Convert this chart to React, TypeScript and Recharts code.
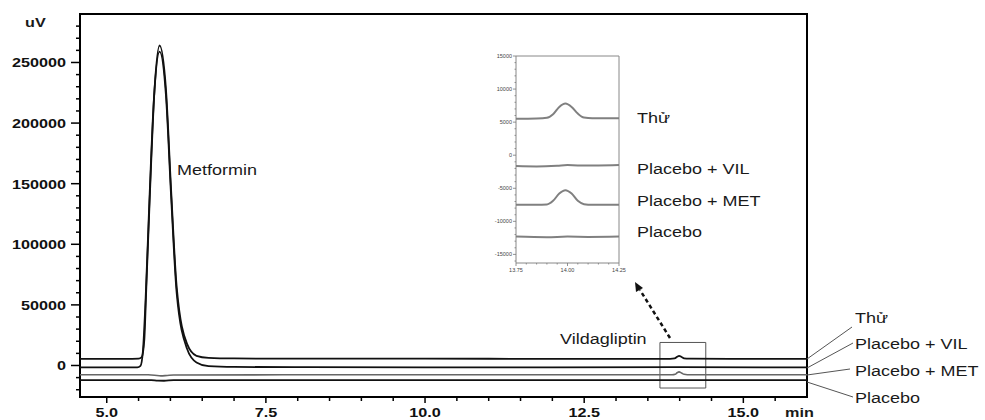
import { LineChart, Line, XAxis, YAxis, ReferenceArea } from "recharts";

// main chromatogram (time in min, signal in uV)
const xDomain = [4.58, 16];
const yDomain = [-26000, 290000];
const xTicks = [5, 5.5, 6, 6.5, 7, 7.5, 8, 8.5, 9, 9.5, 10, 10.5, 11, 11.5, 12, 12.5, 13, 13.5, 14, 14.5, 15, 15.5];
const xLabels = [5, 7.5, 10, 12.5, 15];
const yTicks = [
  -20000, -10000, 0, 10000, 20000, 30000, 40000, 50000, 60000, 70000, 80000, 90000, 100000,
  110000, 120000, 130000, 140000, 150000, 160000, 170000, 180000, 190000, 200000, 210000,
  220000, 230000, 240000, 250000, 260000, 270000, 280000,
];
const yLabels = [0, 50000, 100000, 150000, 200000, 250000];

const thuTimes = [4.58, 5.4, 5.5, 5.55, 5.59, 5.62, 5.68, 5.75, 5.83, 5.93, 6.01, 6.1, 6.26, 6.41, 6.6, 7.0, 8.0, 10.0, 12.0, 13.85, 13.92, 13.96, 13.99, 14.03, 14.07, 14.15, 15.0, 16.0];
const thuValues = [5500, 5500, 5600, 7000, 21000, 62000, 144000, 227000, 264000, 228000, 146000, 64000, 18000, 8000, 6300, 5800, 5600, 5600, 5500, 5500, 5800, 7200, 8000, 7000, 5900, 5600, 5500, 5500];

const vilTimes = [4.58, 5.38, 5.48, 5.53, 5.57, 5.61, 5.67, 5.74, 5.83, 5.93, 6.01, 6.1, 6.26, 6.41, 6.6, 7.0, 8.0, 10.0, 12.0, 14.0, 16.0];
const vilValues = [-1600, -1600, -1500, -300, 13000, 54000, 136000, 219000, 259000, 223000, 141000, 59000, 14000, 2500, -600, -1200, -1400, -1500, -1500, -1400, -1600];

const metTimes = [4.58, 5.65, 5.75, 5.85, 5.95, 6.05, 8.0, 12.0, 13.88, 13.93, 13.96, 13.99, 14.03, 14.07, 14.12, 16.0];
const metValues = [-7700, -7700, -8000, -8600, -8200, -7800, -7700, -7700, -7700, -7300, -6000, -5300, -6200, -7300, -7600, -7700];

const placeboTimes = [4.58, 5.7, 5.8, 5.9, 6.05, 10.0, 14.0, 16.0];
const placeboValues = [-12000, -12000, -12500, -12600, -12100, -12000, -12100, -12000];

// inset zoom around vildagliptin
const insetXDomain = [13.75, 14.25];
const insetYDomain = [-16300, 15000];
const insetXTicks = [13.75, 13.8, 13.85, 13.9, 13.95, 14.0, 14.05, 14.1, 14.15, 14.2, 14.25];
const insetXLabels = ["13.75", "14.00", "14.25"];
const insetYTicks = [
  -16000, -15000, -14000, -13000, -12000, -11000, -10000, -9000, -8000, -7000, -6000, -5000,
  -4000, -3000, -2000, -1000, 0, 1000, 2000, 3000, 4000, 5000, 6000, 7000, 8000, 9000, 10000,
  11000, 12000, 13000, 14000, 15000,
];
const insetYLabels = [-15000, -10000, -5000, 0, 5000, 10000, 15000];

const insetThuTimes = [13.75, 13.85, 13.9, 13.93, 13.96, 13.99, 14.02, 14.05, 14.08, 14.12, 14.25];
const insetThuValues = [5500, 5550, 5650, 6200, 7300, 7800, 7300, 6300, 5700, 5600, 5600];
const insetVilTimes = [13.75, 13.85, 13.95, 14.0, 14.05, 14.15, 14.25];
const insetVilValues = [-1650, -1700, -1600, -1500, -1550, -1550, -1500];
const insetMetTimes = [13.75, 13.85, 13.9, 13.93, 13.96, 13.99, 14.02, 14.05, 14.08, 14.12, 14.25];
const insetMetValues = [-7500, -7500, -7450, -6900, -5800, -5300, -5800, -6900, -7400, -7500, -7500];
const insetPlaceboTimes = [13.75, 13.9, 14.0, 14.1, 14.25];
const insetPlaceboValues = [-12300, -12400, -12300, -12350, -12300];

const seriesNames = ["Thử", "Placebo + VIL", "Placebo + MET", "Placebo"];

const toPoints = (ts: number[], vs: number[]) => ts.map((t, i) => ({ t, v: vs[i] }));

const FONT = "'Liberation Sans', Arial, sans-serif";

const YTick = (props: any) => {
  const { x, y, payload } = props;
  const major = yLabels.includes(payload.value);
  return (
    <g>
      <line x1={x - (major ? 9 : 4)} x2={x} y1={y} y2={y} stroke="#000" strokeWidth={1.5} />
      {major && (
        <text
          transform={`translate(${x - 14},${y + 5}) scale(1.2,1)`}
          textAnchor="end"
          fontFamily={FONT}
          fontWeight="bold"
          fontSize={13.5}
          fill="#111"
        >
          {payload.value}
        </text>
      )}
    </g>
  );
};

const XTick = (props: any) => {
  const { x, y, payload } = props;
  const major = xLabels.includes(payload.value);
  return (
    <g>
      <line x1={x} x2={x} y1={y} y2={y + (major ? 6 : 4)} stroke="#000" strokeWidth={1.5} />
      {major && (
        <text
          transform={`translate(${x},${y + 20}) scale(1.2,1)`}
          textAnchor="middle"
          fontFamily={FONT}
          fontWeight="bold"
          fontSize={13.5}
          fill="#111"
        >
          {payload.value.toFixed(1)}
        </text>
      )}
    </g>
  );
};

const InsetYTick = (props: any) => {
  const { x, y, payload } = props;
  const major = insetYLabels.includes(payload.value);
  return (
    <g>
      <line x1={x - (major ? 3 : 1.5)} x2={x} y1={y} y2={y} stroke="#777" strokeWidth={0.8} />
      {major && (
        <text x={x - 4} y={y + 2} textAnchor="end" fontFamily={FONT} fontSize={5.5} fill="#444">
          {payload.value}
        </text>
      )}
    </g>
  );
};

const InsetXTick = (props: any) => {
  const { x, y, payload } = props;
  const label = insetXLabels.find((l) => Math.abs(parseFloat(l) - payload.value) < 1e-6);
  return (
    <g>
      <line x1={x} x2={x} y1={y} y2={y + (label ? 3 : 1.5)} stroke="#777" strokeWidth={0.8} />
      {label && (
        <text x={x} y={y + 9} textAnchor="middle" fontFamily={FONT} fontSize={5.5} fill="#444">
          {label}
        </text>
      )}
    </g>
  );
};

const Label = ({ x, y, children, size = 15, bold = false, anchor = "start" }: any) => (
  <text
    transform={`translate(${x},${y}) scale(1.2,1)`}
    textAnchor={anchor}
    fontFamily={FONT}
    fontSize={size}
    fontWeight={bold ? "bold" : "normal"}
    fill="#1a1a1a"
  >
    {children}
  </text>
);

export default function App() {
  const mainSeries = [
    { name: seriesNames[0], data: toPoints(thuTimes, thuValues), color: "#111", w: 1.8 },
    { name: seriesNames[1], data: toPoints(vilTimes, vilValues), color: "#111", w: 1.8 },
    { name: seriesNames[2], data: toPoints(metTimes, metValues), color: "#666", w: 1.6 },
    { name: seriesNames[3], data: toPoints(placeboTimes, placeboValues), color: "#111", w: 1.8 },
  ];
  const insetSeries = [
    toPoints(insetThuTimes, insetThuValues),
    toPoints(insetVilTimes, insetVilValues),
    toPoints(insetMetTimes, insetMetValues),
    toPoints(insetPlaceboTimes, insetPlaceboValues),
  ];

  return (
    <div style={{ position: "absolute", left: 0, top: 0, width: 985, height: 420, background: "#fff" }}>
      <div style={{ position: "absolute", left: 0, top: 0 }}>
        <LineChart width={985} height={420} margin={{ top: 14, right: 178, bottom: 3, left: 10 }}>
          <XAxis
            type="number"
            dataKey="t"
            domain={xDomain}
            ticks={xTicks}
            interval={0}
            tick={XTick}
            tickSize={0}
            tickMargin={0}
            axisLine={false}
            height={20}
            allowDataOverflow
          />
          <YAxis
            type="number"
            domain={yDomain}
            ticks={yTicks}
            interval={0}
            tick={YTick}
            tickSize={0}
            tickMargin={0}
            axisLine={false}
            width={70}
            allowDataOverflow
          />
          <ReferenceArea x1={xDomain[0]} x2={xDomain[1]} y1={yDomain[0]} y2={yDomain[1]} fill="none" stroke="#000" strokeWidth={2} />
          <ReferenceArea x1={13.69} x2={14.41} y1={-18600} y2={19000} fill="none" stroke="#555" strokeWidth={1} />
          {mainSeries.map((s) => (
            <Line
              key={s.name}
              data={s.data}
              dataKey="v"
              type="monotone"
              stroke={s.color}
              strokeWidth={s.w}
              dot={false}
              isAnimationActive={false}
            />
          ))}
        </LineChart>
      </div>

      <div style={{ position: "absolute", left: 470, top: 46 }}>
        <LineChart width={170} height={232} margin={{ top: 10, right: 21, bottom: 3, left: 6 }}>
          <XAxis
            type="number"
            dataKey="t"
            domain={insetXDomain}
            ticks={insetXTicks}
            interval={0}
            tick={InsetXTick}
            tickSize={0}
            tickMargin={0}
            axisLine={false}
            height={12}
            allowDataOverflow
          />
          <YAxis
            type="number"
            domain={insetYDomain}
            ticks={insetYTicks}
            interval={0}
            tick={InsetYTick}
            tickSize={0}
            tickMargin={0}
            axisLine={false}
            width={40}
            allowDataOverflow
          />
          <ReferenceArea
            x1={insetXDomain[0]}
            x2={insetXDomain[1]}
            y1={insetYDomain[0]}
            y2={insetYDomain[1]}
            fill="none"
            stroke="#888"
            strokeWidth={1}
          />
          {insetSeries.map((d, i) => (
            <Line
              key={i}
              data={d}
              dataKey="v"
              type="monotone"
              stroke="#808080"
              strokeWidth={2}
              dot={false}
              isAnimationActive={false}
            />
          ))}
        </LineChart>
      </div>

      <svg width={985} height={420} style={{ position: "absolute", left: 0, top: 0, pointerEvents: "none" }}>
        <Label x={25} y={27} size={13.5} bold>uV</Label>
        <Label x={785} y={417} size={13.5} bold>min</Label>
        <Label x={177} y={175}>Metformin</Label>
        <Label x={560} y={344}>Vildagliptin</Label>

        {/* inset labels */}
        <Label x={637} y={123}>{seriesNames[0]}</Label>
        <Label x={637} y={174}>{seriesNames[1]}</Label>
        <Label x={637} y={206}>{seriesNames[2]}</Label>
        <Label x={637} y={237}>{seriesNames[3]}</Label>

        {/* right-side labels with leader lines */}
        <line x1={807} y1={359} x2={852} y2={327} stroke="#555" strokeWidth={1} />
        <line x1={807} y1={368} x2={853} y2={343} stroke="#555" strokeWidth={1} />
        <line x1={807} y1={375} x2={850} y2={369} stroke="#555" strokeWidth={1} />
        <line x1={807} y1={382} x2={853} y2={397} stroke="#555" strokeWidth={1} />
        <Label x={855} y={323}>{seriesNames[0]}</Label>
        <Label x={855} y={349}>{seriesNames[1]}</Label>
        <Label x={855} y={376}>{seriesNames[2]}</Label>
        <Label x={855} y={403}>{seriesNames[3]}</Label>

        {/* dashed pointer to the inset */}
        <line x1={670} y1={338} x2={640} y2={290} stroke="#111" strokeWidth={2.5} strokeDasharray="4 3" />
        <polygon points="635,282 643,288 636,292" fill="#111" />
      </svg>
    </div>
  );
}
